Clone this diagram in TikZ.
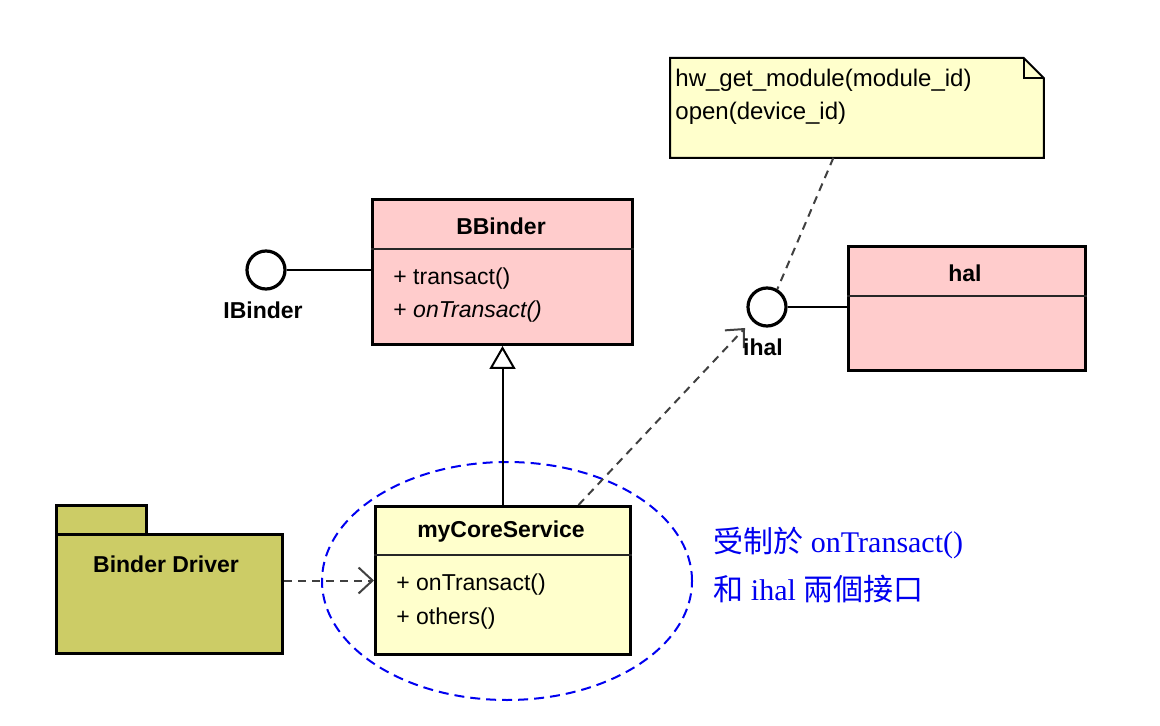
\documentclass[tikz,border=0pt]{standalone}
\usepackage{fontspec}
\setmainfont{Liberation Sans}
\newfontfamily\cjk{Noto Sans CJK TC}
\newfontfamily\tms{Liberation Serif}
\usetikzlibrary{arrows.meta,shapes.geometric}
\definecolor{pinkfill}{HTML}{FFCCCC}
\definecolor{yelfill}{HTML}{FFFFCC}
\definecolor{olivefill}{HTML}{CCCC66}
\definecolor{dashgray}{HTML}{404040}
\definecolor{myblue}{HTML}{0000F0}
\begin{document}
\begin{tikzpicture}[x=0.5pt,y=-0.5pt,
  box/.style={draw=black, line width=1.5pt, rectangle, inner sep=0pt, anchor=north west},
  divider/.style={line width=0.8pt, draw=black!85},
  title/.style={font=\fontsize{11.5}{13}\selectfont\bfseries, inner sep=0pt},
  member/.style={font=\fontsize{11.5}{13}\selectfont, inner sep=0pt, anchor=west},
  iface/.style={circle, draw=black, line width=1.6pt, fill=white, minimum size=19pt, inner sep=0pt},
  lolly/.style={line width=1pt, draw=black},
  depend/.style={draw=dashgray, line width=1pt, dash pattern=on 4pt off 3pt},
  openarrow/.style={-{Straight Barb[length=7pt,width=13pt,line width=1pt]}},
  bluetext/.style={anchor=west, text=myblue, font=\fontsize{15}{17}\selectfont, inner sep=0pt},
]
\fill[white] (0,0) rectangle (1160,726);
\useasboundingbox (0,0) rectangle (1160,726);

% focus ellipse
\node[ellipse, draw=myblue, line width=1pt, dash pattern=on 5pt off 3pt,
      minimum width=185pt, minimum height=119pt, inner sep=0pt] (focus) at (507,581) {};

% note
\node[rectangle, inner sep=0pt, anchor=north west, minimum width=186.5pt, minimum height=49.5pt] (note) at (670,58) {};
\draw[fill=yelfill, line width=1pt] (note.north west) -- ([xshift=-10pt]note.north east)
  -- ([yshift=-10pt]note.north east) -- (note.south east) -- (note.south west) -- cycle;
\draw[line width=1pt] ([xshift=-10pt]note.north east) |- ([yshift=-10pt]note.north east);
\node[member, font=\fontsize{12}{14}\selectfont] (n1) at (675,80) {hw\_get\_module(module\_id)};
\node[member, font=\fontsize{12}{14}\selectfont] (n2) at (675,113) {open(device\_id)};

% BBinder
\node[box, fill=pinkfill, minimum width=130pt, minimum height=72.5pt] (bb) at (371,198) {};
\draw[divider] (bb.west |- 0,249) -- (bb.east |- 0,249);
\node[title] (bbt) at (501,226) {BBinder};
\node[member] (bbm1) at (393,279) {+ transact()};
\node[member] (bbm2) at (393,312) {+ \textit{onTransact()}};

% IBinder
\node[iface] (ib) at (266,270) {};
\node[title] (ibl) at (263,310) {IBinder};
\draw[lolly] (ib.east) -- (ib.east -| bb.west);

% hal
\node[box, fill=pinkfill, minimum width=118.5pt, minimum height=62pt] (hal) at (847,245) {};
\draw[divider] (hal.west |- 0,296) -- (hal.east |- 0,296);
\node[title] (halt) at (965,273) {hal};

% ihal
\node[iface] (ih) at (767,307) {};
\draw[lolly] (ih.east) -- (ih.east -| hal.west);

% myCoreService
\node[box, fill=yelfill, minimum width=127.5pt, minimum height=74pt] (mc) at (374,505) {};
\draw[divider] (mc.west |- 0,555) -- (mc.east |- 0,555);
\node[title] (mct) at (501,532) {myCoreService};
\node[member] (mcm1) at (396,585) {+ onTransact()};
\node[member] (mcm2) at (396,619) {+ others()};

% Binder Driver package
\node[box, fill=olivefill, minimum width=45pt, minimum height=14.5pt] (bdtab) at (55,504) {};
\node[box, fill=olivefill, minimum width=113pt, minimum height=59.5pt] (bd) at (55,533) {};
\node[title] (bdt) at (166,564) {Binder Driver};

% connectors
\draw[line width=1pt, -{Triangle[open, length=11.5pt, width=13pt, line width=1pt]}] (bb.south |- mc.north) -- (bb.south);
\draw[depend, openarrow] (bd.east |- mc.west) -- (mc.west);
\draw[depend, openarrow] ([xshift=37.75pt]mc.north) -- ([shift={(-11pt,-10.5pt)}]ih.center);
\draw[depend] ([xshift=-11.75pt]note.south) -- (ih.60);
\node[title] (ihl) at (763,347) {ihal};

% blue caption
\node[bluetext] (cap1) at (713,543) {{\cjk 受制於}{\tms{} onTransact()}};
\node[bluetext] (cap2) at (713,589) {{\cjk 和}{\tms{} ihal }{\cjk 兩個接口}};
\end{tikzpicture}
\end{document}
